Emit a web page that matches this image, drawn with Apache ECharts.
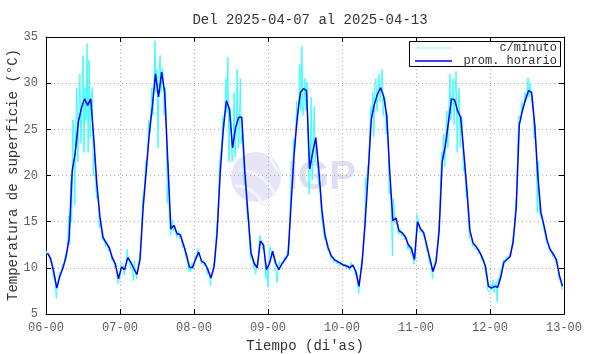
<!DOCTYPE html>
<html>
<head>
<meta charset="utf-8">
<script src="https://cdn.jsdelivr.net/npm/echarts@6/dist/echarts.min.js"></script>
<style>
html,body{margin:0;padding:0;background:#fff;}
#graphic{width:590px;height:354px;}
</style>
</head>
<body>
<div id="graphic"></div>
<script>
var dayLabels = ['06-00','07-00','08-00','09-00','10-00','11-00','12-00','13-00'];

//prom. horario - un valor por hora (centrado en la media hora)
var hourly06 = [11.6,11.0,9.6,7.8,9.1,10.0,11.2,13.2,20.5,22.5,25.8,27.3,28.3,27.6,28.3,24.0,19.0,15.5,13.3,12.7,12.2,11.1,10.4,8.8];
var hourly07 = [10.1,9.8,11.1,10.6,9.9,9.3,10.9,16.5,20.5,24.5,27.5,31.0,28.5,31.2,29.0,21.5,14.2,14.6,13.7,13.6,12.6,11.5,10.1,10.0];
var hourly08 = [10.9,11.7,10.7,10.5,9.8,8.9,10.1,13.8,20.3,25.0,28.1,27.2,23.0,25.2,26.3,26.3,20.3,15.9,11.6,10.5,10.0,12.9,12.5,9.8];
var hourly09 = [10.5,11.8,10.5,9.8,10.4,10.9,11.4,17.0,22.5,26.3,29.0,29.4,29.2,20.7,22.5,24.1,20.5,16.2,13.5,12.2,11.3,10.9,10.7,10.5];
var hourly10 = [10.3,10.2,10.0,10.3,9.6,8.0,10.5,14.9,20.3,26.1,27.7,28.8,29.5,28.6,26.5,20.3,15.1,15.4,14.0,13.8,13.4,12.5,12.1,10.9];
var hourly11 = [15.0,14.2,13.8,12.4,11.0,9.6,10.6,14.0,21.5,23.2,25.7,28.3,28.2,27.0,26.3,22.5,18.5,14.0,12.7,12.3,11.8,11.1,10.2,8.0];
var hourly12 = [7.8,8.0,7.9,9.0,10.6,10.9,11.2,12.8,16.5,25.5,27.0,28.2,29.2,29.0,25.5,20.0,16.0,14.6,13.0,12.0,11.5,10.9,9.2,8.0];

//c/minuto - muestras cada 20 minutos
var minute06 = [11.9,11.5,11.3, 11.4,10.8,10.6, 10.2,9.2,9.0, 8.3,6.7,7.9, 8.0,9.5,9.6, 9.6,10.4,9.9,
                10.7,11.5,11.6, 12.0,15.6,12.5, 19.5,15.0,26.0, 25.5,16.8,25.5, 29.5,21.5,26.5, 31.0,23.5,27.5,
                33.0,22.5,29.5, 26.0,34.3,22.5, 32.5,24.0,28.5, 29.5,20.0,22.5, 20.5,17.5,19.0, 17.0,14.3,15.2,
                13.8,13.0,13.1, 12.9,12.3,12.9, 12.7,11.8,12.1, 11.6,10.8,10.9, 10.9,10.0,10.3, 9.5,8.3,8.6];
var minute07 = [9.0,10.6,10.7, 10.4,9.2,9.8, 10.5,12.0,10.8, 11.2,10.0,10.6, 10.3,8.6,10.8, 9.6,8.8,9.5,
                9.5,11.2,12.0, 14.0,17.5,18.0, 19.0,21.5,21.0, 23.0,26.0,24.5, 26.5,29.5,26.5, 29.5,34.6,29.0,
                31.5,23.0,31.0, 33.0,29.0,31.6, 31.0,26.5,29.5, 26.0,17.0,21.5, 15.5,13.5,13.6, 15.2,14.0,14.6,
                14.2,13.3,13.6, 14.0,13.2,13.6, 13.0,12.2,12.6, 12.0,11.2,11.3, 10.6,9.6,10.1, 9.6,10.5,9.9];
var minute08 = [10.4,11.3,11.0, 11.4,12.1,11.6, 11.2,10.4,10.5, 10.8,10.2,10.5, 10.2,9.3,9.9, 9.3,8.1,9.3,
                9.6,10.5,10.2, 11.5,14.5,15.4, 18.0,21.5,21.4, 23.5,26.5,25.0, 27.0,30.5,26.8, 32.8,21.5,27.3,
                26.0,21.5,22.4, 29.0,22.0,24.6, 31.5,23.0,24.4, 30.5,23.5,24.9, 22.0,19.0,19.9, 17.0,15.2,15.5,
                12.6,11.0,11.2, 11.0,10.0,10.5, 9.3,10.2,10.5, 12.0,13.5,13.2, 13.0,12.0,12.5, 10.8,8.8,9.8];
var minute09 = [7.9,11.3,12.3, 12.2,11.5,11.7, 11.0,10.2,10.3, 8.4,10.3,10.7, 10.0,10.7,10.5, 10.5,11.2,11.0,
                11.0,11.8,11.4, 13.5,18.5,19.0, 21.0,24.0,22.5, 25.0,28.0,25.9, 28.0,32.0,27.0, 34.0,26.5,27.7,
                30.5,27.0,30.1, 24.0,18.0,20.1, 28.5,19.5,19.5, 27.5,21.5,23.3, 22.5,19.0,20.0, 17.5,15.5,15.6,
                14.0,13.1,13.4, 12.6,11.9,12.1, 11.7,11.0,11.2, 11.2,10.6,10.9, 11.0,10.4,10.7, 10.8,10.2,10.5];
var minute10 = [10.5,10.1,10.3, 10.4,10.0,10.2, 10.3,9.7,10.0, 10.6,10.1,10.2, 10.0,9.2,9.6, 8.8,7.2,8.0,
                9.5,10.8,11.2, 12.5,14.2,19.8, 18.5,21.0,21.4, 24.5,27.5,26.3, 29.0,24.2,29.9, 30.5,27.0,28.9,
                31.0,28.0,29.5, 31.5,26.5,27.8, 28.5,24.5,26.5, 23.5,18.0,19.4, 16.5,11.3,17.5, 16.0,15.0,15.2,
                14.5,13.6,13.9, 14.2,13.4,13.8, 13.8,13.0,13.4, 13.0,12.0,12.5, 12.5,11.5,12.3, 11.3,10.4,11.0];
var minute11 = [13.5,15.8,15.7, 14.8,13.8,14.0, 14.2,13.5,13.7, 13.2,12.0,12.2, 11.6,10.5,11.0, 10.0,8.8,10.0,
                10.0,11.0,11.0, 12.0,14.5,15.4, 20.0,22.5,22.0, 24.5,21.0,24.1, 27.0,23.0,27.1, 31.0,26.0,27.9,
                30.5,25.5,28.6, 31.3,22.5,27.2, 29.5,23.0,26.4, 26.0,20.5,21.0, 19.5,17.5,18.5, 15.0,13.2,13.8,
                13.2,12.3,12.6, 12.7,12.0,12.2, 12.1,11.5,11.8, 11.5,10.8,11.0, 10.9,9.8,9.9, 8.8,7.5,7.7];
var minute12 = [7.4,8.2,7.8, 8.6,7.3,8.1, 8.5,6.3,8.9, 8.2,9.5,9.3, 10.2,10.9,10.7, 10.6,11.2,10.9,
                10.9,11.5,11.2, 12.0,13.2,13.2, 14.5,17.0,18.0, 23.5,26.5,26.5, 26.0,28.0,27.0, 27.5,29.0,28.1,
                28.5,30.6,28.5, 30.0,28.5,28.5, 27.0,24.0,25.5, 22.5,16.0,21.5, 16.5,15.5,16.0, 15.0,14.3,14.5,
                13.5,12.7,12.8, 12.3,11.8,11.9, 11.8,11.2,11.5, 11.2,10.6,10.9, 10.0,8.8,8.8, 8.5,7.7,7.8];

var hourlyDays = [hourly06, hourly07, hourly08, hourly09, hourly10, hourly11, hourly12];
var minuteDays = [minute06, minute07, minute08, minute09, minute10, minute11, minute12];

//horas desde 06-00
function buildHourly(){
    var ret = [];
    for(var d=0; d<hourlyDays.length; d++){
        for(var h=0; h<hourlyDays[d].length; h++){
            ret.push([d*24 + h + 0.5, hourlyDays[d][h]]);
        }
    }
    return ret;
}

function buildMinute(){
    var ret = [];
    for(var d=0; d<minuteDays.length; d++){
        for(var i=0; i<minuteDays[d].length; i++){
            ret.push([d*24 + i/3, minuteDays[d][i]]);
        }
    }
    return ret;
}

var monoFont = '"Liberation Mono", "DejaVu Sans Mono", monospace';

function frameAxis(pos, isX, showLabel){
    var axis = {
        type: 'value', position: pos,
        axisLine: {show: true, onZero: false, lineStyle: {color: '#000', width: 1}},
        axisTick: {show: true, inside: true, length: 5, lineStyle: {color: '#000', width: 1}},
        axisLabel: {show: showLabel, color: '#606060', fontFamily: monoFont, fontSize: 12, margin: 8},
        splitLine: {show: false}
    };
    if(isX){
        axis.min = 0; axis.max = 168; axis.interval = 24;
        axis.axisLabel.formatter = function(v){ return dayLabels[Math.round(v/24)]; };
    }else{
        axis.min = 5; axis.max = 35; axis.interval = 5;
    }
    return axis;
}

function getWatermark(){
    return [
        {type: 'circle', z: 0, silent: true, shape: {cx: 256, cy: 177, r: 25}, style: {fill: '#e5e5f7'}},
        {type: 'arc', z: 0, silent: true, shape: {cx: 238, cy: 210, r: 40, startAngle: -1.5, endAngle: -0.35}, style: {stroke: '#f0f6fc', lineWidth: 3, fill: null}},
        {type: 'arc', z: 0, silent: true, shape: {cx: 236, cy: 214, r: 28, startAngle: -1.6, endAngle: -0.3}, style: {stroke: '#f0f6fc', lineWidth: 3, fill: null}},
        {type: 'arc', z: 0, silent: true, shape: {cx: 300, cy: 150, r: 30, startAngle: 2.2, endAngle: 3.4}, style: {stroke: '#f0f6fc', lineWidth: 3, fill: null}},
        {type: 'text', z: 0, silent: true, x: 287, y: 178,
         style: {text: 'IGP', fill: '#dfdff3', font: 'bold 40px "Liberation Sans", Arial, sans-serif', verticalAlign: 'middle'}}
    ];
}

function getLegend(){
    return [
        {type: 'rect', z: 10, shape: {x: 409.5, y: 41.5, width: 151, height: 25}, style: {fill: '#fff', stroke: '#000', lineWidth: 1}},
        {type: 'line', z: 11, shape: {x1: 415, y1: 48, x2: 452, y2: 48}, style: {stroke: '#7ffcff', lineWidth: 1}},
        {type: 'text', z: 11, x: 557, y: 48, style: {text: 'c/minuto', fill: '#333', font: '12px ' + monoFont, align: 'right', verticalAlign: 'middle'}},
        {type: 'line', z: 11, shape: {x1: 415, y1: 61, x2: 452, y2: 61}, style: {stroke: '#0000ff', lineWidth: 1.5}},
        {type: 'text', z: 11, x: 557, y: 61, style: {text: 'prom. horario', fill: '#333', font: '12px ' + monoFont, align: 'right', verticalAlign: 'middle'}}
    ];
}

//titulo del eje y, girado
function getYName(){
    return [{type: 'text', z: 5, x: 13, y: 175, rotation: Math.PI / 2,
             style: {text: 'Temperatura de superficie (°C)', fill: '#333', font: '14px ' + monoFont,
                     align: 'center', verticalAlign: 'middle'}}];
}

function getOption(){
    var xBottom = frameAxis('bottom', true, true);
    xBottom.name = "Tiempo (di'as)";
    xBottom.nameLocation = 'middle';
    xBottom.nameGap = 25;
    xBottom.nameTextStyle = {fontFamily: monoFont, fontSize: 14, color: '#333'};
    xBottom.splitLine = {show: true, lineStyle: {color: '#aaa', type: [1, 3], width: 1}};

    var yLeft = frameAxis('left', false, true);
    yLeft.splitLine = {show: true, lineStyle: {color: '#aaa', type: [1, 3], width: 1}};

    var option = {
        animation: false,
        backgroundColor: '#fff',
        title: {
            text: 'Del 2025-04-07 al 2025-04-13', left: 305, top: 8, textAlign: 'center',
            textStyle: {fontFamily: monoFont, fontSize: 14, fontWeight: 'normal', color: '#333'}
        },
        grid: {left: 46, right: 26, top: 37, bottom: 40, containLabel: false, outerBoundsMode: 'none'},
        xAxis: [xBottom, frameAxis('top', true, false)],
        yAxis: [yLeft, frameAxis('right', false, false)],
        graphic: getWatermark().concat(getLegend()).concat(getYName()),
        series: [
            {name: 'c/minuto', type: 'line', showSymbol: false, data: buildMinute(),
             lineStyle: {color: '#33ffff', width: 1}, itemStyle: {color: '#33ffff'}, z: 2},
            {name: 'prom. horario', type: 'line', showSymbol: false, data: buildHourly(),
             lineStyle: {color: '#0000ff', width: 1.5}, itemStyle: {color: '#0000ff'}, z: 3}
        ]
    };
    return option;
}

function init(){
    var graphic = echarts.init(document.getElementById('graphic'));
    graphic.setOption(getOption());
}

init();
</script>
</body>
</html>
